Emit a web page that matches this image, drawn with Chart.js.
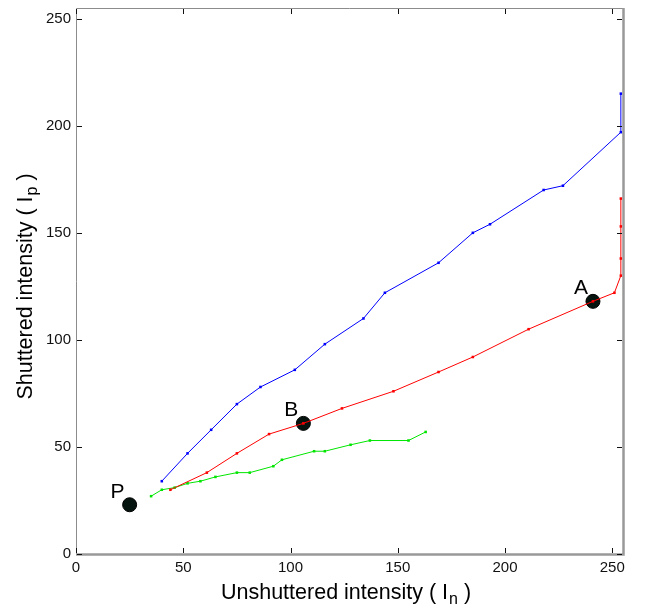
<!DOCTYPE html>
<html>
<head>
<meta charset="utf-8">
<script src="https://cdn.jsdelivr.net/npm/chart.js@4/dist/chart.umd.min.js"></script>
<style>
  html, body { margin: 0; padding: 0; background: #fff; }
  #wrap { width: 648px; height: 607px; }
</style>
</head>
<body>
<div id="wrap"><canvas id="intensityChart" width="648" height="607"></canvas></div>
<script>
// values (unshuttered In vs shuttered Ip)
var blueIn  = [40, 52, 63, 75, 86, 102, 116, 134, 144, 169, 185, 193, 218, 227, 254, 254];
var blueIp  = [34, 47, 58, 70, 78, 86, 98, 110, 122, 136, 150, 154, 170, 172, 197, 215];
var redIn   = [44, 61, 75, 90, 106, 124, 148, 169, 185, 211, 241, 251, 254, 254, 254, 254];
var redIp   = [30, 38, 47, 56, 61, 68, 76, 85, 92, 105, 118, 122, 130, 138, 153, 166];
var greenIn = [35, 40, 46, 52, 58, 65, 75, 81, 92, 96, 111, 116, 128, 137, 155, 163];
var greenIp = [27, 30, 31, 33, 34, 36, 38, 38, 41, 44, 48, 48, 51, 53, 53, 57];
var markerNames = ['P', 'B', 'A'];
var markerIn = [25, 106, 241];
var markerIp = [23, 61, 118];
var tickValues = [0, 50, 100, 150, 200, 250];
var axisMax = 255;

var FONT = '"Liberation Sans", Arial, Helvetica, sans-serif';

function pairs(xs, ys) {
    return xs.map((x, i) => ({x: x, y: ys[i]}));
}

function series(xs, ys, color) {
    return {
        data: pairs(xs, ys),
        showLine: true,
        borderColor: color,
        backgroundColor: color,
        borderWidth: 1,
        pointRadius: 1.8,
        pointBorderWidth: 0,
        pointStyle: 'rect'
    };
}

// frame, inward ticks, axis titles and marker letters, drawn the matlab way
var matlabFrame = {
    id: 'matlabFrame',
    afterDatasetsDraw(chart) {
        let ctx = chart.ctx, a = chart.chartArea;
        let xs = chart.scales.x, ys = chart.scales.y;
        ctx.save();
        ctx.strokeStyle = '#8c8c8c';
        ctx.lineWidth = 1;
        ctx.beginPath();
        ctx.moveTo(a.left + 0.5, a.bottom);
        ctx.lineTo(a.left + 0.5, a.top + 0.5);
        ctx.lineTo(a.right, a.top + 0.5);
        ctx.stroke();
        ctx.lineWidth = 2.5;
        ctx.strokeStyle = '#999';
        ctx.beginPath();
        ctx.moveTo(a.left, a.bottom + 0.5);
        ctx.lineTo(a.right + 0.5, a.bottom + 0.5);
        ctx.lineTo(a.right + 0.5, a.top);
        ctx.stroke();

        ctx.strokeStyle = '#111';
        ctx.lineWidth = 1;
        ctx.beginPath();
        tickValues.forEach(v => {
            let px = Math.round(xs.getPixelForValue(v)) + 0.5;
            ctx.moveTo(px, a.bottom - 1); ctx.lineTo(px, a.bottom - 6);
            ctx.moveTo(px, a.top + 1); ctx.lineTo(px, a.top + 6);
            let py = Math.round(ys.getPixelForValue(v)) + 0.5;
            ctx.moveTo(a.left + 1, py); ctx.lineTo(a.left + 6, py);
            ctx.moveTo(a.right - 1, py); ctx.lineTo(a.right - 6, py);
        });
        ctx.stroke();

        // marker letters
        ctx.fillStyle = '#000';
        ctx.font = '21px ' + FONT;
        ctx.textAlign = 'right';
        ctx.textBaseline = 'alphabetic';
        markerNames.forEach((name, i) => {
            let px = xs.getPixelForValue(markerIn[i]);
            let py = ys.getPixelForValue(markerIp[i]);
            ctx.fillText(name, px - 5, py - 7);
        });

        // axis titles with subscripts
        drawTitle(ctx, 'Unshuttered intensity ( I', 'n', ' )', (a.left + a.right) / 2 - 4, 599);
        ctx.save();
        ctx.translate(32, (a.top + a.bottom) / 2 + 6);
        ctx.rotate(-Math.PI / 2);
        drawTitle(ctx, 'Shuttered intensity ( I', 'p', ' )', 0, 0);
        ctx.restore();
        ctx.restore();
    }
};

function drawTitle(ctx, head, sub, tail, cx, baseY) {
    let big = '21.5px ' + FONT, small = '16px ' + FONT;
    ctx.font = big;
    let w1 = ctx.measureText(head).width, w3 = ctx.measureText(tail).width;
    ctx.font = small;
    let w2 = ctx.measureText(sub).width;
    let x = cx - (w1 + w2 + w3) / 2;
    ctx.fillStyle = '#000';
    ctx.textAlign = 'left';
    ctx.textBaseline = 'alphabetic';
    ctx.font = big;
    ctx.fillText(head, x, baseY);
    ctx.font = small;
    ctx.fillText(sub, x + w1 + 1, baseY + 5);
    ctx.font = big;
    ctx.fillText(tail, x + w1 + w2 + 1, baseY);
}

function axisOptions(fitFn) {
    return {
        type: 'linear',
        min: 0,
        max: axisMax,
        grid: {display: false, drawTicks: false},
        border: {display: false},
        ticks: {color: '#111', font: {family: FONT, size: 15}, padding: 5, autoSkip: false, maxRotation: 0},
        afterBuildTicks: scale => { scale.ticks = tickValues.map(v => ({value: v})); },
        afterFit: scale => {
            fitFn(scale);
            scale.paddingTop = 0; scale.paddingBottom = 0;
            scale.paddingLeft = 0; scale.paddingRight = 0;
        }
    };
}

var ctx = document.getElementById('intensityChart');
var myChart = new Chart(ctx, {
    type: 'scatter',
    data: {
        datasets: [
            series(blueIn, blueIp, '#0000ff'),
            series(redIn, redIp, '#ff0000'),
            series(greenIn, greenIp, '#00e600'),
            {
                data: pairs(markerIn, markerIp),
                showLine: false,
                pointRadius: 7,
                pointBackgroundColor: '#061410',
                pointBorderColor: '#000',
                pointBorderWidth: 1
            }
        ]
    },
    options: {
        responsive: false,
        animation: false,
        devicePixelRatio: 1,
        layout: {padding: {top: 7, right: 25, left: 0, bottom: 0}},
        plugins: {legend: {display: false}, tooltip: {enabled: false}},
        events: [],
        scales: {
            x: axisOptions(scale => { scale.height = 53; }),
            y: axisOptions(scale => { scale.width = 76; })
        }
    },
    plugins: [matlabFrame]
});
</script>
</body>
</html>
